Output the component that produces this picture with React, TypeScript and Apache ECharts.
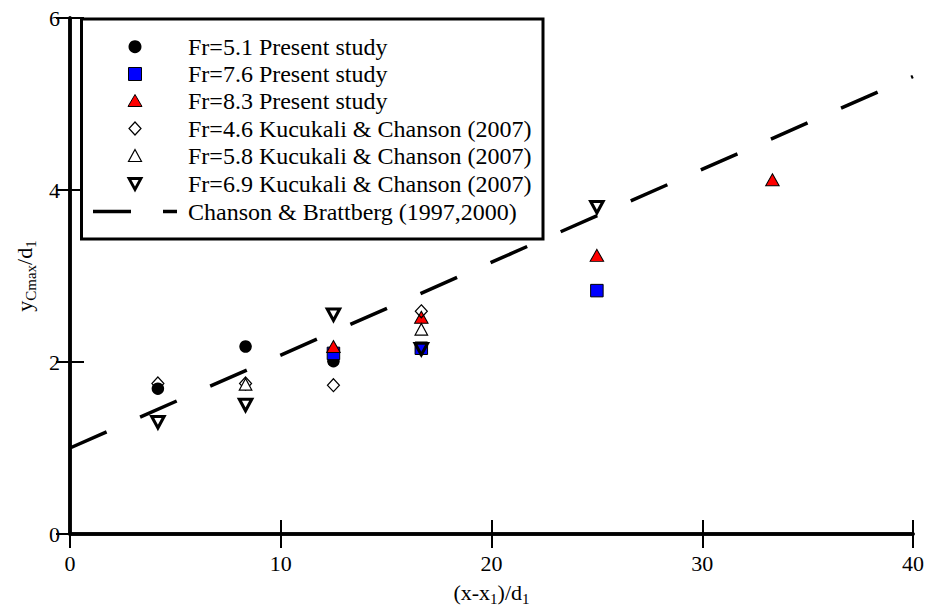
import React, { useEffect, useRef } from "react";
import * as echarts from "echarts";

// ---- data ----
const fr51X = [4.17, 8.33, 12.5, 16.67];
const fr51Y = [1.69, 2.18, 2.01, 2.15];
const fr76X = [12.5, 16.67, 25];
const fr76Y = [2.1, 2.16, 2.83];
const fr83X = [12.5, 16.67, 25, 33.33];
const fr83Y = [2.18, 2.52, 3.24, 4.12];
const kc46X = [4.17, 8.33, 12.5, 16.67];
const kc46Y = [1.75, 1.75, 1.73, 2.59];
const kc58X = [8.33, 16.67];
const kc58Y = [1.74, 2.38];
const kc69X = [4.17, 8.33, 12.5, 16.67, 25];
const kc69Y = [1.3, 1.5, 2.55, 2.15, 3.8];
const cbX = [0, 40];
const cbY = [1.0, 5.32];
const legendLabels = [
  "Fr=5.1 Present study",
  "Fr=7.6 Present study",
  "Fr=8.3 Present study",
  "Fr=4.6 Kucukali & Chanson (2007)",
  "Fr=5.8 Kucukali & Chanson (2007)",
  "Fr=6.9 Kucukali & Chanson (2007)",
  "Chanson & Brattberg (1997,2000)",
];
const xTickValues = [0, 10, 20, 30, 40];
const yTickValues = [0, 2, 4, 6];

const FONT = "Liberation Serif";
const zip = (xs: number[], ys: number[]) => xs.map((x, i) => [x, ys[i]]);

export default function App() {
  const ref = useRef<HTMLDivElement>(null);
  useEffect(() => {
    if (!ref.current) return;
    const chart = echarts.init(ref.current, null, { renderer: "svg" });

    const rowY = [46.7, 74, 101, 128.5, 156, 183.5, 211.5];
    const symX = 135;
    const textX = 188;
    const legendGraphics: any[] = [
      {
        type: "rect",
        shape: { x: 81.5, y: 19, width: 461.5, height: 220 },
        style: { fill: "#fff", stroke: "#000", lineWidth: 3 },
        z: 100,
      },
      { type: "circle", shape: { cx: symX, cy: rowY[0], r: 6.5 }, style: { fill: "#000" }, z: 101 },
      {
        type: "rect",
        shape: { x: symX - 6.5, y: rowY[1] - 6.5, width: 13, height: 13 },
        style: { fill: "#0000ff", stroke: "#000", lineWidth: 1 },
        z: 101,
      },
      {
        type: "polygon",
        shape: { points: [[symX, rowY[2] - 6.5], [symX + 7, rowY[2] + 5.5], [symX - 7, rowY[2] + 5.5]] },
        style: { fill: "#ff0000", stroke: "#000", lineWidth: 1 },
        z: 101,
      },
      {
        type: "polygon",
        shape: { points: [[symX, rowY[3] - 6.5], [symX + 6, rowY[3]], [symX, rowY[3] + 6.5], [symX - 6, rowY[3]]] },
        style: { fill: "#fff", stroke: "#000", lineWidth: 1.2 },
        z: 101,
      },
      {
        type: "polygon",
        shape: { points: [[symX, rowY[4] - 6.5], [symX + 6.5, rowY[4] + 5.5], [symX - 6.5, rowY[4] + 5.5]] },
        style: { fill: "#fff", stroke: "#000", lineWidth: 1.2 },
        z: 101,
      },
      {
        type: "polygon",
        shape: { points: [[symX - 6, rowY[5] - 5], [symX + 6, rowY[5] - 5], [symX, rowY[5] + 6]] },
        style: { fill: "none", stroke: "#000", lineWidth: 2.8 },
        z: 101,
      },
      {
        type: "line",
        shape: { x1: 93, y1: rowY[6], x2: 131, y2: rowY[6] },
        style: { stroke: "#000", lineWidth: 3.5 },
        z: 101,
      },
      {
        type: "line",
        shape: { x1: 163, y1: rowY[6], x2: 177, y2: rowY[6] },
        style: { stroke: "#000", lineWidth: 3.5 },
        z: 101,
      },
      ...legendLabels.map((t, i) => ({
        type: "text",
        x: textX,
        y: rowY[i],
        style: {
          text: t,
          fontFamily: FONT,
          fontSize: 24,
          fill: "#000",
          verticalAlign: "middle",
          align: "left",
        },
        z: 101,
      })),
    ];

    const axisCommon = {
      type: "value" as const,
      axisLine: { show: true, lineStyle: { color: "#000", width: 3.5 } },
      axisTick: { show: true, inside: true, length: 14, lineStyle: { color: "#000", width: 2 } },
      splitLine: { show: false },
    };

    const richName = {
      m: { fontFamily: FONT, fontSize: 22, color: "#000", lineHeight: 28 },
      s: { fontFamily: FONT, fontSize: 15, color: "#000", lineHeight: 13, verticalAlign: "bottom" as const },
    };

    chart.setOption({
      animation: false,
      backgroundColor: "#fff",
      grid: { left: 70, right: 16, top: 18, bottom: 71, containLabel: false },
      xAxis: [
        {
          ...axisCommon,
          min: 0,
          max: 40,
          interval: 10,
          position: "bottom",
          axisLabel: {
            show: true,
            margin: 18,
            fontFamily: FONT,
            fontSize: 22,
            color: "#000",
            formatter: (v: number) => (xTickValues.includes(v) ? String(v) : ""),
          },
          name: "{m|(x-x}{s|1}{m|)/d}{s|1}",
          nameLocation: "middle",
          nameGap: 44,
          nameTextStyle: { rich: richName },
        },
        {
          ...axisCommon,
          min: 0,
          max: 40,
          interval: 10,
          position: "top",
          axisLabel: { show: false },
        },
      ],
      yAxis: [
        {
          ...axisCommon,
          min: 0,
          max: 6,
          interval: 2,
          position: "left",
          axisLabel: {
            show: true,
            margin: 10,
            fontFamily: FONT,
            fontSize: 22,
            color: "#000",
            formatter: (v: number) => (yTickValues.includes(v) ? String(v) : ""),
          },
          name: "{m|y}{s|Cmax}{m|/d}{s|1}",
          nameLocation: "middle",
          nameRotate: 90,
          nameGap: 32,
          nameTextStyle: { rich: richName },
        },
        {
          ...axisCommon,
          min: 0,
          max: 6,
          interval: 2,
          position: "right",
          axisLabel: { show: false },
        },
      ],
      series: [
        {
          type: "scatter",
          data: zip(fr51X, fr51Y),
          symbol: "circle",
          symbolSize: 12.5,
          itemStyle: { color: "#000", opacity: 1 },
          z: 2,
        },
        {
          type: "scatter",
          data: zip(fr76X, fr76Y),
          symbol: "rect",
          symbolSize: 12.5,
          itemStyle: { color: "#0000ff", borderColor: "#000", borderWidth: 1, opacity: 1 },
          z: 3,
        },
        {
          type: "scatter",
          data: zip(fr83X, fr83Y),
          symbol: "triangle",
          symbolSize: [13.5, 12],
          itemStyle: { color: "#ff0000", borderColor: "#000", borderWidth: 1, opacity: 1 },
          z: 4,
        },
        {
          type: "scatter",
          data: zip(kc46X, kc46Y),
          symbol: "diamond",
          symbolSize: [12, 13],
          itemStyle: { color: "rgba(255,255,255,0)", borderColor: "#000", borderWidth: 1.2, opacity: 1 },
          z: 5,
        },
        {
          type: "scatter",
          data: zip(kc58X, kc58Y),
          symbol: "triangle",
          symbolSize: [12.5, 11.5],
          itemStyle: { color: "#fff", borderColor: "#000", borderWidth: 1.2, opacity: 1 },
          z: 5,
        },
        {
          type: "scatter",
          data: zip(kc69X, kc69Y),
          symbol: "triangle",
          symbolRotate: 180,
          symbolSize: [12.5, 11.5],
          itemStyle: { color: "rgba(255,255,255,0)", borderColor: "#000", borderWidth: 3, opacity: 1 },
          z: 6,
        },
        {
          type: "line",
          data: zip(cbX, cbY),
          showSymbol: false,
          symbol: "none",
          lineStyle: { color: "#000", width: 3.5, type: [40, 36.6], cap: "butt" },
          z: 7,
        },
      ],
      graphic: legendGraphics,
    });
    return () => chart.dispose();
  }, []);

  return (
    <div
      ref={ref}
      style={{ position: "fixed", left: 0, top: 0, width: 929, height: 611, background: "#fff" }}
    />
  );
}
